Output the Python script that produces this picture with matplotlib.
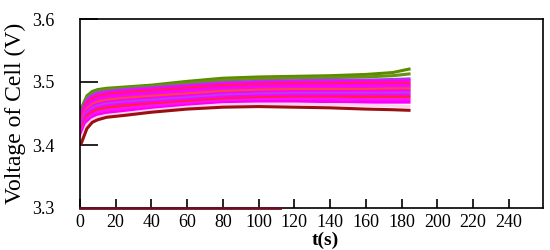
import numpy as np
import matplotlib
matplotlib.use("Agg")
import matplotlib.pyplot as plt

plt.rcParams['font.family'] = ['Liberation Serif', 'DejaVu Serif']

# sample times (s) shared by all cells
t = [0.5, 4, 7, 10, 15, 25, 40, 60, 80, 100, 120, 140, 160, 175, 185]

# cell voltages (V), top of the band to the bottom
cells = [
    [3.456, 3.478, 3.485, 3.488, 3.490, 3.492, 3.495, 3.501, 3.506, 3.508, 3.509, 3.510, 3.512, 3.515, 3.521],
    [3.453, 3.475, 3.482, 3.486, 3.488, 3.490, 3.493, 3.498, 3.503, 3.505, 3.506, 3.507, 3.508, 3.510, 3.513],
    [3.450, 3.472, 3.479, 3.483, 3.485, 3.488, 3.491, 3.495, 3.499, 3.501, 3.502, 3.503, 3.503, 3.504, 3.505],
    [3.447, 3.469, 3.476, 3.480, 3.483, 3.486, 3.489, 3.493, 3.497, 3.499, 3.500, 3.500, 3.501, 3.501, 3.502],
    [3.444, 3.466, 3.473, 3.477, 3.480, 3.483, 3.486, 3.490, 3.494, 3.496, 3.497, 3.497, 3.498, 3.498, 3.498],
    [3.441, 3.463, 3.470, 3.474, 3.477, 3.480, 3.483, 3.487, 3.491, 3.493, 3.494, 3.494, 3.495, 3.495, 3.495],
    [3.438, 3.460, 3.467, 3.471, 3.474, 3.477, 3.480, 3.484, 3.488, 3.490, 3.491, 3.491, 3.492, 3.492, 3.492],
    [3.435, 3.457, 3.464, 3.468, 3.471, 3.474, 3.477, 3.481, 3.485, 3.487, 3.488, 3.488, 3.488, 3.489, 3.489],
    [3.432, 3.454, 3.461, 3.465, 3.468, 3.471, 3.474, 3.478, 3.482, 3.484, 3.485, 3.485, 3.485, 3.486, 3.486],
    [3.429, 3.451, 3.458, 3.462, 3.465, 3.468, 3.471, 3.475, 3.479, 3.481, 3.482, 3.482, 3.482, 3.482, 3.483],
    [3.426, 3.448, 3.455, 3.459, 3.462, 3.465, 3.468, 3.472, 3.476, 3.478, 3.479, 3.479, 3.479, 3.479, 3.479],
    [3.422, 3.445, 3.452, 3.456, 3.459, 3.462, 3.465, 3.469, 3.473, 3.475, 3.476, 3.476, 3.476, 3.476, 3.476],
    [3.418, 3.441, 3.448, 3.452, 3.455, 3.458, 3.462, 3.466, 3.470, 3.472, 3.473, 3.473, 3.472, 3.472, 3.472],
    [3.414, 3.437, 3.444, 3.448, 3.451, 3.454, 3.458, 3.463, 3.467, 3.469, 3.469, 3.469, 3.468, 3.468, 3.468],
    [3.408, 3.432, 3.440, 3.444, 3.447, 3.450, 3.455, 3.460, 3.464, 3.465, 3.465, 3.464, 3.463, 3.462, 3.461],
    [3.400, 3.426, 3.436, 3.440, 3.444, 3.447, 3.452, 3.457, 3.460, 3.461, 3.460, 3.459, 3.457, 3.456, 3.455],
]
colors = ['#5a8c00', '#6a9010', '#a040e8', '#ff00ff', '#ff2050', '#ff00ff', '#f010f0',
          '#ff4a30', '#ff00ff', '#b040f0', '#ff00ff', '#ff2040', '#ff10ff', '#f800f8',
          '#ffd0f0', '#9a1010']

# dark line lying along the bottom axis
base_t = [0, 112]
base_v = [3.3, 3.3]

xticks = list(range(0, 260, 20))
yticks = [3.3, 3.4, 3.5, 3.6]

fig = plt.figure(figsize=(5.5, 2.5), dpi=100)
ax = fig.add_axes([0.145, 0.168, 0.842, 0.756])

for v, c in zip(cells, colors):
    ax.plot(t, v, color=c, lw=2.2, solid_capstyle='butt')

ax.plot(base_t, base_v, color='#6a1020', lw=2, clip_on=False, zorder=5)

ax.set_xlim(0, 259)
ax.set_ylim(3.3, 3.6)
ax.set_xticks(xticks)
ax.set_yticks(yticks)
ax.set_yticklabels([f"{y:.1f}" for y in yticks])
ax.tick_params(axis='x', direction='in', length=6.5, width=1.2, labelsize=13, pad=4)
ax.tick_params(axis='y', direction='in', length=13, width=1.2, labelsize=13, pad=18)
for s in ax.spines.values():
    s.set_linewidth(1.2)

ax.set_xlabel('t(s)', fontsize=14, fontweight='bold')
ax.xaxis.set_label_coords(0.53, -0.125)
ax.set_ylabel('Voltage of Cell (V)', fontsize=17)
ax.yaxis.set_label_coords(-0.115, 0.5)

fig.savefig('out.png', dpi=100)
